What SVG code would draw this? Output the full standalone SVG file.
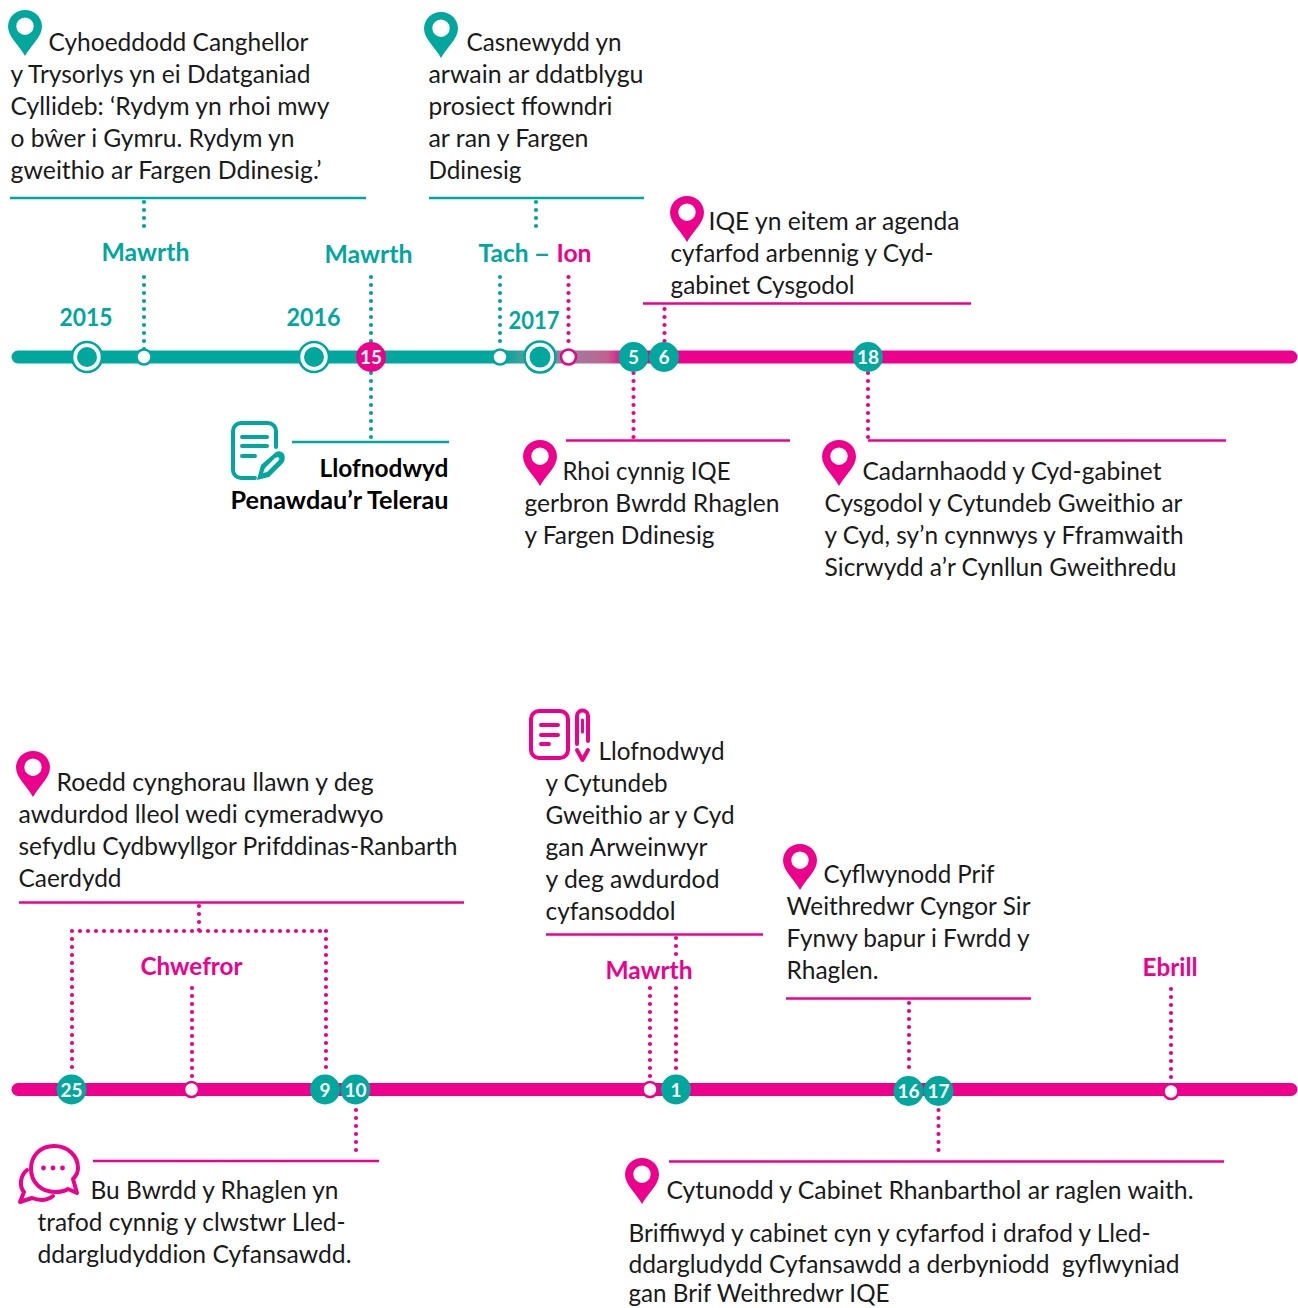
<svg xmlns="http://www.w3.org/2000/svg" width="1298" height="1308" viewBox="0 0 1298 1308">
<style>
.t{font-family:"Lato","Carlito","Open Sans",sans-serif;font-size:25px;fill:#1a1a1a;transform:translate(-0.5px,0.7px)}
.b{font-weight:700;fill:#000}
.l{font-family:"Lato","Carlito","Open Sans",sans-serif;font-size:25px;font-weight:700;transform:translate(-0.5px,0.7px)}
.n{font-family:"Lato","Carlito","Open Sans",sans-serif;font-size:19px;font-weight:700;fill:#fff;text-anchor:middle}
.teal{fill:#00a79d}.pink{fill:#ec008c}
.st{stroke:#00a79d}.sp{stroke:#ec008c}
.rule{stroke-width:2.4;fill:none}
.dot{stroke-width:4.2;stroke-linecap:round;stroke-dasharray:0 8;fill:none}
.bar{stroke-width:13;stroke-linecap:round;fill:none}
.open{fill:#fff;stroke-width:2.6}
.ic{fill:none;stroke-width:4;stroke-linecap:round;stroke-linejoin:round}
</style>
<defs>
<symbol id="pin" viewBox="0 0 34 46" overflow="visible">
<path fill-rule="evenodd" d="M17 46C11 35 0 27 0 16.5A17 16.5 0 0 1 34 16.5C34 27 23 35 17 46ZM17 7.5A8.7 8.7 0 1 0 17 24.9A8.7 8.7 0 1 0 17 7.5Z"/>
</symbol>
<linearGradient id="fade" gradientUnits="userSpaceOnUse" x1="505" y1="0" x2="625" y2="0">
<stop offset="0" stop-color="#00a79d"/><stop offset="0.2" stop-color="#5f9e9a"/><stop offset="0.65" stop-color="#a9749a"/><stop offset="0.85" stop-color="#c0628f"/><stop offset="1" stop-color="#ec008c"/>
</linearGradient>
</defs>

<g id="connectors">
<path class="bar st" d="M18 357H505"/>
<path d="M505 350.500H625V363.500H505Z" fill="url(#fade)"/>
<path class="bar sp" d="M625 357H1291"/>
<path class="bar sp" d="M18 1089.500H1291"/>
<g class="dot st">
<path d="M144 202V228M144 277V350M536 202V228M371 277V345M371 373V438M500 277V349"/>
</g>
<g class="dot sp">
<path d="M568.500 277V349M664.500 309V345M633.500 373V438M868 373V438"/>
<path d="M199 906V931M72 931H326M72 931V1074M326 931V1074M192 988V1080M650 988V1080M676 938V962M676 988V1074M909 1003V1075M1171 989V1082M938.500 1110V1158M356 1110V1158"/>
</g>
</g>

<g id="e2015-mawrth">
<text class="t" x="49" y="50" textLength="260" lengthAdjust="spacingAndGlyphs">Cyhoeddodd Canghellor</text>
<text class="t" x="11" y="82" textLength="300" lengthAdjust="spacingAndGlyphs">y Trysorlys yn ei Ddatganiad</text>
<text class="t" x="11" y="114" textLength="319" lengthAdjust="spacingAndGlyphs">Cyllideb: ‘Rydym yn rhoi mwy</text>
<text class="t" x="11" y="146" textLength="284" lengthAdjust="spacingAndGlyphs">o bŵer i Gymru. Rydym yn</text>
<text class="t" x="11" y="178" textLength="311" lengthAdjust="spacingAndGlyphs">gweithio ar Fargen Ddinesig.’</text>
<use href="#pin" class="teal" x="8" y="10" width="34" height="46"/>
<path class="rule st" d="M10 198H366"/>
<text class="l teal" x="102" y="260" textLength="88" lengthAdjust="spacingAndGlyphs">Mawrth</text>
<circle class="open st" cx="144" cy="357" r="7.500"/>
</g>

<g id="y2015">
<text class="l teal" x="60" y="325" textLength="53" lengthAdjust="spacingAndGlyphs">2015</text>
<circle cx="87" cy="357" r="15" fill="#fff" stroke="#00a79d" stroke-width="2.600"/>
<circle cx="87" cy="357" r="10" class="teal"/>
</g>
<g id="y2016">
<text class="l teal" x="287" y="325" textLength="54" lengthAdjust="spacingAndGlyphs">2016</text>
<circle cx="314" cy="357" r="15" fill="#fff" stroke="#00a79d" stroke-width="2.600"/>
<circle cx="314" cy="357" r="10" class="teal"/>
</g>
<g id="y2017">
<text class="l teal" x="509" y="328" textLength="51" lengthAdjust="spacingAndGlyphs">2017</text>
<circle cx="540" cy="357" r="15.500" fill="#fff" stroke="#00a79d" stroke-width="2.600"/>
<circle cx="540" cy="357" r="10.500" class="teal"/>
</g>

<g id="e15">
<text class="l teal" x="325" y="262" textLength="88" lengthAdjust="spacingAndGlyphs">Mawrth</text>
<circle class="pink" cx="371" cy="357" r="15"/>
<text class="n" x="371" y="364">15</text>
<path class="rule st" d="M292 442H449"/>
<g class="ic st">
<path d="M276 447V431A8 8 0 0 0 268 423H241A8 8 0 0 0 233 431V470A8 8 0 0 0 241 478H255"/>
<path d="M242 437H267M242 446H267M242 456H255"/>
</g>
<path class="teal" fill-rule="evenodd" d="M257 480L261 465L276 452Q281 450 284 454Q286 459 283 463L269 477ZM263 473L267 472L279 460Q280 458 278 457L275 458L265 468Z"/>
<text class="t b" x="320" y="476" textLength="129" lengthAdjust="spacingAndGlyphs">Llofnodwyd</text>
<text class="t b" x="231" y="508" textLength="218" lengthAdjust="spacingAndGlyphs">Penawdau’r Telerau</text>
</g>

<g id="e-tach">
<text class="t" x="467" y="50" textLength="155" lengthAdjust="spacingAndGlyphs">Casnewydd yn</text>
<text class="t" x="429" y="82" textLength="215" lengthAdjust="spacingAndGlyphs">arwain ar ddatblygu</text>
<text class="t" x="429" y="114" textLength="184" lengthAdjust="spacingAndGlyphs">prosiect ffowndri</text>
<text class="t" x="429" y="146" textLength="160" lengthAdjust="spacingAndGlyphs">ar ran y Fargen</text>
<text class="t" x="429" y="178" textLength="93" lengthAdjust="spacingAndGlyphs">Ddinesig</text>
<use href="#pin" class="teal" x="424" y="12" width="34" height="46"/>
<path class="rule st" d="M429 198H644"/>
<text class="l teal" x="479" y="261" textLength="50" lengthAdjust="spacingAndGlyphs">Tach</text>
<text class="l teal" x="534" y="261" textLength="17" lengthAdjust="spacingAndGlyphs">–</text>
<circle class="open st" cx="500" cy="357" r="7.500"/>
</g>

<g id="e-ion">
<text class="l pink" x="557" y="261" textLength="35" lengthAdjust="spacingAndGlyphs">Ion</text>
<circle class="open sp" cx="568.500" cy="357" r="7.500"/>
</g>

<g id="e5">
<circle class="teal" cx="633.500" cy="357" r="15"/>
<text class="n" x="633.500" y="364">5</text>
<path class="rule sp" d="M566 440.500H790"/>
<use href="#pin" class="pink" x="523" y="440" width="34" height="46"/>
<text class="t" x="563" y="479" textLength="168" lengthAdjust="spacingAndGlyphs">Rhoi cynnig IQE</text>
<text class="t" x="525" y="511" textLength="255" lengthAdjust="spacingAndGlyphs">gerbron Bwrdd Rhaglen</text>
<text class="t" x="525" y="543" textLength="190" lengthAdjust="spacingAndGlyphs">y Fargen Ddinesig</text>
</g>

<g id="e6">
<circle class="teal" cx="664" cy="357" r="15"/>
<text class="n" x="664" y="364">6</text>
<path class="rule sp" d="M643 303.500H971"/>
<use href="#pin" class="pink" x="670" y="196" width="34" height="46"/>
<text class="t" x="709" y="229" textLength="251" lengthAdjust="spacingAndGlyphs">IQE yn eitem ar agenda</text>
<text class="t" x="671" y="261" textLength="263" lengthAdjust="spacingAndGlyphs">cyfarfod arbennig y Cyd-</text>
<text class="t" x="671" y="293" textLength="184" lengthAdjust="spacingAndGlyphs">gabinet Cysgodol</text>
</g>

<g id="e18">
<circle class="teal" cx="868" cy="357" r="15"/>
<text class="n" x="868" y="364">18</text>
<path class="rule sp" d="M868 440.500H1226"/>
<use href="#pin" class="pink" x="822" y="440" width="34" height="46"/>
<text class="t" x="863" y="479" textLength="299" lengthAdjust="spacingAndGlyphs">Cadarnhaodd y Cyd-gabinet</text>
<text class="t" x="825" y="511" textLength="358" lengthAdjust="spacingAndGlyphs">Cysgodol y Cytundeb Gweithio ar</text>
<text class="t" x="825" y="543" textLength="359" lengthAdjust="spacingAndGlyphs">y Cyd, sy’n cynnwys y Fframwaith</text>
<text class="t" x="825" y="575" textLength="352" lengthAdjust="spacingAndGlyphs">Sicrwydd a’r Cynllun Gweithredu</text>
</g>

<g id="e-chwefror">
<use href="#pin" class="pink" x="16" y="751" width="34" height="46"/>
<text class="t" x="57" y="790" textLength="317" lengthAdjust="spacingAndGlyphs">Roedd cynghorau llawn y deg</text>
<text class="t" x="19" y="822" textLength="365" lengthAdjust="spacingAndGlyphs">awdurdod lleol wedi cymeradwyo</text>
<text class="t" x="19" y="854" textLength="439" lengthAdjust="spacingAndGlyphs">sefydlu Cydbwyllgor Prifddinas-Ranbarth</text>
<text class="t" x="19" y="886" textLength="103" lengthAdjust="spacingAndGlyphs">Caerdydd</text>
<path class="rule sp" d="M19 902.500H464"/>
<text class="l pink" x="141" y="974" textLength="102" lengthAdjust="spacingAndGlyphs">Chwefror</text>
<circle class="teal" cx="71.500" cy="1089.500" r="15"/>
<text class="n" x="71.500" y="1096.500">25</text>
<circle class="open sp" cx="191.500" cy="1089.500" r="7.500"/>
<circle class="teal" cx="325" cy="1089.500" r="15"/>
<text class="n" x="325" y="1096.500">9</text>
</g>

<g id="e10">
<circle class="teal" cx="355.500" cy="1089.500" r="15"/>
<text class="n" x="355.500" y="1096.500">10</text>
<path class="rule sp" d="M93 1161H379"/>
<g class="ic sp">
<path d="M54 1146C40 1146 31 1156 31 1169C31 1183 42 1192 55 1192C61 1192 65 1191 68 1189L77 1193L73 1179C76 1176 78 1173 78 1168C78 1156 68 1146 54 1146Z"/>
<path d="M27 1170C20 1176 19 1186 24 1192L20 1202L32 1198C40 1201 48 1200 53 1196"/>
</g>
<circle class="pink" cx="43.500" cy="1168" r="2.400"/><circle class="pink" cx="53" cy="1168" r="2.400"/><circle class="pink" cx="62.500" cy="1168" r="2.400"/>
<text class="t" x="91" y="1198" textLength="248" lengthAdjust="spacingAndGlyphs">Bu Bwrdd y Rhaglen yn</text>
<text class="t" x="38" y="1230" textLength="308" lengthAdjust="spacingAndGlyphs">trafod cynnig y clwstwr Lled-</text>
<text class="t" x="38" y="1262" textLength="314" lengthAdjust="spacingAndGlyphs">ddargludyddion Cyfansawdd.</text>
</g>

<g id="e-mawrth-1">
<g class="ic sp">
<rect x="531" y="711" width="37" height="47" rx="8"/>
<path d="M541 725H558M541 735H558M541 744H549"/>
<path d="M577 744V716A5.500 5.500 0 0 1 588 716V741"/>
<path d="M577 750L582.500 760L588 750"/>
</g>
<path d="M582.500 720V732" stroke="#ec008c" stroke-width="3" stroke-linecap="round" fill="none"/>
<text class="t" x="599" y="759" textLength="126" lengthAdjust="spacingAndGlyphs">Llofnodwyd</text>
<text class="t" x="546" y="791" textLength="122" lengthAdjust="spacingAndGlyphs">y Cytundeb</text>
<text class="t" x="546" y="823" textLength="189" lengthAdjust="spacingAndGlyphs">Gweithio ar y Cyd</text>
<text class="t" x="546" y="855" textLength="162" lengthAdjust="spacingAndGlyphs">gan Arweinwyr</text>
<text class="t" x="546" y="887" textLength="174" lengthAdjust="spacingAndGlyphs">y deg awdurdod</text>
<text class="t" x="546" y="919" textLength="130" lengthAdjust="spacingAndGlyphs">cyfansoddol</text>
<path class="rule sp" d="M546 934.500H763"/>
<text class="l pink" x="606" y="978" textLength="87" lengthAdjust="spacingAndGlyphs">Mawrth</text>
<circle class="open sp" cx="650" cy="1089.500" r="7.500"/>
<circle class="teal" cx="676" cy="1089.500" r="15"/>
<text class="n" x="676" y="1096.500">1</text>
</g>

<g id="e16">
<use href="#pin" class="pink" x="783" y="844" width="34" height="46"/>
<text class="t" x="824" y="882" textLength="171" lengthAdjust="spacingAndGlyphs">Cyflwynodd Prif</text>
<text class="t" x="787" y="914" textLength="244" lengthAdjust="spacingAndGlyphs">Weithredwr Cyngor Sir</text>
<text class="t" x="787" y="946" textLength="243" lengthAdjust="spacingAndGlyphs">Fynwy bapur i Fwrdd y</text>
<text class="t" x="787" y="978" textLength="92" lengthAdjust="spacingAndGlyphs">Rhaglen.</text>
<path class="rule sp" d="M786 998.500H1031"/>
<circle class="teal" cx="908.500" cy="1091" r="15"/>
<text class="n" x="908.500" y="1098">16</text>
</g>

<g id="e17">
<circle class="teal" cx="938.500" cy="1091" r="15"/>
<text class="n" x="938.500" y="1098">17</text>
<path class="rule sp" d="M669 1161.500H1224"/>
<use href="#pin" class="pink" x="625" y="1158" width="34" height="46"/>
<text class="t" x="667" y="1198" textLength="527" lengthAdjust="spacingAndGlyphs">Cytunodd y Cabinet Rhanbarthol ar raglen waith.</text>
<text class="t" x="629" y="1241" textLength="522" lengthAdjust="spacingAndGlyphs">Briffiwyd y cabinet cyn y cyfarfod i drafod y Lled-</text>
<text class="t" x="629" y="1272" textLength="551" lengthAdjust="spacingAndGlyphs" xml:space="preserve">ddargludydd Cyfansawdd a derbyniodd  gyflwyniad</text>
<text class="t" x="629" y="1301" textLength="261" lengthAdjust="spacingAndGlyphs">gan Brif Weithredwr IQE</text>
</g>

<g id="e-ebrill">
<text class="l pink" x="1143" y="975" textLength="55" lengthAdjust="spacingAndGlyphs">Ebrill</text>
<circle class="open sp" cx="1171" cy="1091.500" r="7.500"/>
</g>
</svg>
